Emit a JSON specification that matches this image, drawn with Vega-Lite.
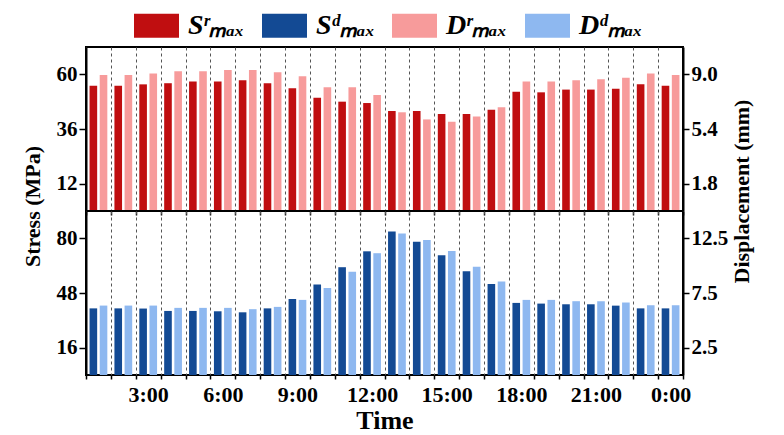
{
  "$schema": "https://vega.github.io/schema/vega-lite/v6.json",
  "background": "white",
  "padding": {"left": 20, "top": 3, "right": 8, "bottom": 2},
  "data": {"values": [
    {"h":1,"s":"Sr","k":"S","v":55.0},{"h":2,"s":"Sr","k":"S","v":55.0},{"h":3,"s":"Sr","k":"S","v":55.6},{"h":4,"s":"Sr","k":"S","v":56.1},
    {"h":5,"s":"Sr","k":"S","v":56.8},{"h":6,"s":"Sr","k":"S","v":56.8},{"h":7,"s":"Sr","k":"S","v":57.4},{"h":8,"s":"Sr","k":"S","v":56.1},
    {"h":9,"s":"Sr","k":"S","v":53.9},{"h":10,"s":"Sr","k":"S","v":49.7},{"h":11,"s":"Sr","k":"S","v":48.0},{"h":12,"s":"Sr","k":"S","v":47.4},
    {"h":13,"s":"Sr","k":"S","v":43.9},{"h":14,"s":"Sr","k":"S","v":43.9},{"h":15,"s":"Sr","k":"S","v":42.6},{"h":16,"s":"Sr","k":"S","v":42.6},
    {"h":17,"s":"Sr","k":"S","v":44.5},{"h":18,"s":"Sr","k":"S","v":52.4},{"h":19,"s":"Sr","k":"S","v":52.1},{"h":20,"s":"Sr","k":"S","v":53.3},
    {"h":21,"s":"Sr","k":"S","v":53.3},{"h":22,"s":"Sr","k":"S","v":53.7},{"h":23,"s":"Sr","k":"S","v":55.6},{"h":24,"s":"Sr","k":"S","v":55.0},
    {"h":1,"s":"Dr","k":"D","v":8.96},{"h":2,"s":"Dr","k":"D","v":8.96},{"h":3,"s":"Dr","k":"D","v":9.05},{"h":4,"s":"Dr","k":"D","v":9.2},
    {"h":5,"s":"Dr","k":"D","v":9.2},{"h":6,"s":"Dr","k":"D","v":9.29},{"h":7,"s":"Dr","k":"D","v":9.29},{"h":8,"s":"Dr","k":"D","v":9.14},
    {"h":9,"s":"Dr","k":"D","v":8.87},{"h":10,"s":"Dr","k":"D","v":8.15},{"h":11,"s":"Dr","k":"D","v":8.15},{"h":12,"s":"Dr","k":"D","v":7.64},
    {"h":13,"s":"Dr","k":"D","v":6.5},{"h":14,"s":"Dr","k":"D","v":6.03},{"h":15,"s":"Dr","k":"D","v":5.88},{"h":16,"s":"Dr","k":"D","v":6.23},
    {"h":17,"s":"Dr","k":"D","v":6.83},{"h":18,"s":"Dr","k":"D","v":8.52},{"h":19,"s":"Dr","k":"D","v":8.52},{"h":20,"s":"Dr","k":"D","v":8.61},
    {"h":21,"s":"Dr","k":"D","v":8.67},{"h":22,"s":"Dr","k":"D","v":8.78},{"h":23,"s":"Dr","k":"D","v":9.05},{"h":24,"s":"Dr","k":"D","v":8.96},
    {"h":1,"s":"Sd","k":"S","v":39.0},{"h":2,"s":"Sd","k":"S","v":39.0},{"h":3,"s":"Sd","k":"S","v":38.9},{"h":4,"s":"Sd","k":"S","v":37.5},
    {"h":5,"s":"Sd","k":"S","v":37.5},{"h":6,"s":"Sd","k":"S","v":37.3},{"h":7,"s":"Sd","k":"S","v":36.7},{"h":8,"s":"Sd","k":"S","v":39.0},
    {"h":9,"s":"Sd","k":"S","v":44.5},{"h":10,"s":"Sd","k":"S","v":53.0},{"h":11,"s":"Sd","k":"S","v":63.1},{"h":12,"s":"Sd","k":"S","v":72.4},
    {"h":13,"s":"Sd","k":"S","v":84.0},{"h":14,"s":"Sd","k":"S","v":78.0},{"h":15,"s":"Sd","k":"S","v":70.1},{"h":16,"s":"Sd","k":"S","v":60.8},
    {"h":17,"s":"Sd","k":"S","v":53.2},{"h":18,"s":"Sd","k":"S","v":42.2},{"h":19,"s":"Sd","k":"S","v":41.8},{"h":20,"s":"Sd","k":"S","v":41.4},
    {"h":21,"s":"Sd","k":"S","v":41.4},{"h":22,"s":"Sd","k":"S","v":40.6},{"h":23,"s":"Sd","k":"S","v":39.0},{"h":24,"s":"Sd","k":"S","v":39.0},
    {"h":1,"s":"Dd","k":"D","v":6.35},{"h":2,"s":"Dd","k":"D","v":6.35},{"h":3,"s":"Dd","k":"D","v":6.35},{"h":4,"s":"Dd","k":"D","v":6.14},
    {"h":5,"s":"Dd","k":"D","v":6.14},{"h":6,"s":"Dd","k":"D","v":6.14},{"h":7,"s":"Dd","k":"D","v":6.02},{"h":8,"s":"Dd","k":"D","v":6.23},
    {"h":9,"s":"Dd","k":"D","v":6.87},{"h":10,"s":"Dd","k":"D","v":7.95},{"h":11,"s":"Dd","k":"D","v":9.44},{"h":12,"s":"Dd","k":"D","v":11.14},
    {"h":13,"s":"Dd","k":"D","v":12.95},{"h":14,"s":"Dd","k":"D","v":12.35},{"h":15,"s":"Dd","k":"D","v":11.35},{"h":16,"s":"Dd","k":"D","v":9.9},
    {"h":17,"s":"Dd","k":"D","v":8.56},{"h":18,"s":"Dd","k":"D","v":6.87},{"h":19,"s":"Dd","k":"D","v":6.87},{"h":20,"s":"Dd","k":"D","v":6.75},
    {"h":21,"s":"Dd","k":"D","v":6.75},{"h":22,"s":"Dd","k":"D","v":6.63},{"h":23,"s":"Dd","k":"D","v":6.38},{"h":24,"s":"Dd","k":"D","v":6.38}
  ]},
  "config": {
    "font": "Liberation Serif",
    "view": {"stroke": "black", "strokeWidth": 2},
    "axis": {
      "labelFont": "Liberation Serif", "labelFontWeight": "bold", "labelFontSize": 21, "labelColor": "black",
      "titleFont": "Liberation Serif", "titleFontWeight": "bold", "titleFontSize": 22, "titleColor": "black",
      "domainColor": "black", "domainWidth": 2, "tickColor": "black", "tickWidth": 1.5
    }
  },
  "spacing": 0,
  "bounds": "flush",
  "vconcat": [
    {
      "width": 597, "height": 164,
      "encoding": {
        "x": {"field": "h", "type": "ordinal", "scale": {"paddingInner": 0, "paddingOuter": 0},
              "axis": {"labels": false, "title": null, "tickBand": "extent", "grid": true, "gridDash": [3, 3], "gridColor": "#555", "gridWidth": 1, "tickSize": 4, "domain": false}},
        "xOffset": {"field": "k", "type": "nominal", "scale": {"domain": ["S", "D"], "paddingInner": 0.25, "paddingOuter": 0.35}},
        "color": {"field": "s", "type": "nominal",
                  "scale": {"domain": ["Sr", "Sd", "Dr", "Dd"], "range": ["#C00E10", "#134A94", "#F79B9B", "#8EB8F0"]},
                  "legend": {"orient": "none", "legendX": 48, "legendY": -44, "direction": "horizontal", "columns": 4, "title": null,
                             "symbolType": "M-1,-0.533L1,-0.533L1,0.533L-1,0.533Z", "symbolSize": 2025, "symbolStrokeWidth": 0, "symbolOpacity": 1,
                             "labelFont": "Liberation Serif", "labelFontSize": 28, "labelFontStyle": "italic", "labelFontWeight": "bold", "labelColor": "black",
                             "labelOffset": 9, "columnPadding": 17,
                             "labelExpr": "datum.label == 'Sr' ? 'Sʳₘₐₓ' : datum.label == 'Sd' ? 'Sᵈₘₐₓ' : datum.label == 'Dr' ? 'Dʳₘₐₓ' : 'Dᵈₘₐₓ'"}}
      },
      "layer": [
        {
          "transform": [{"filter": "datum.s == 'Sr'"}],
          "mark": {"type": "bar"},
          "encoding": {
            "y": {"field": "v", "type": "quantitative", "scale": {"domain": [0, 72], "nice": false},
                  "axis": {"values": [12, 36, 60], "title": "Stress (MPa)", "grid": false, "tickSize": 7, "labelPadding": 2, "titleY": 159, "titlePadding": 12}}
          }
        },
        {
          "transform": [{"filter": "datum.s == 'Dr'"}],
          "mark": {"type": "bar"},
          "encoding": {
            "y": {"field": "v", "type": "quantitative", "scale": {"domain": [0, 10.8], "nice": false},
                  "axis": {"orient": "right", "values": [1.8, 5.4, 9.0], "format": ".1f", "title": "Displacement (mm)", "grid": false, "tickSize": 6, "labelPadding": 2,
                           "titleAngle": 270, "titleBaseline": "top", "titleY": 144, "titlePadding": 14}}
          }
        }
      ],
      "resolve": {"scale": {"y": "independent"}}
    },
    {
      "width": 597, "height": 164,
      "encoding": {
        "x": {"field": "h", "type": "ordinal", "scale": {"paddingInner": 0, "paddingOuter": 0},
              "axis": {"title": "Time", "titleFontSize": 26, "titlePadding": 2, "labelFontSize": 22, "labelAngle": 0, "labelOverlap": false, "labelPadding": 5,
                       "labelExpr": "datum.value % 3 == 0 ? (datum.value % 24) + ':00' : ''",
                       "tickBand": "extent", "grid": true, "gridDash": [3, 3], "gridColor": "#555", "gridWidth": 1, "tickSize": 4, "domain": false}},
        "xOffset": {"field": "k", "type": "nominal", "scale": {"domain": ["S", "D"], "paddingInner": 0.25, "paddingOuter": 0.35}},
        "color": {"field": "s", "type": "nominal"}
      },
      "layer": [
        {
          "transform": [{"filter": "datum.s == 'Sd'"}],
          "mark": {"type": "bar"},
          "encoding": {
            "y": {"field": "v", "type": "quantitative", "scale": {"domain": [0, 96], "nice": false},
                  "axis": {"values": [16, 48, 80], "title": null, "grid": false, "tickSize": 7, "labelPadding": 2}}
          }
        },
        {
          "transform": [{"filter": "datum.s == 'Dd'"}],
          "mark": {"type": "bar"},
          "encoding": {
            "y": {"field": "v", "type": "quantitative", "scale": {"domain": [0, 15], "nice": false},
                  "axis": {"orient": "right", "values": [2.5, 7.5, 12.5], "format": ".1f", "title": null, "grid": false, "tickSize": 6, "labelPadding": 2}}
          }
        }
      ],
      "resolve": {"scale": {"y": "independent"}}
    }
  ]
}
